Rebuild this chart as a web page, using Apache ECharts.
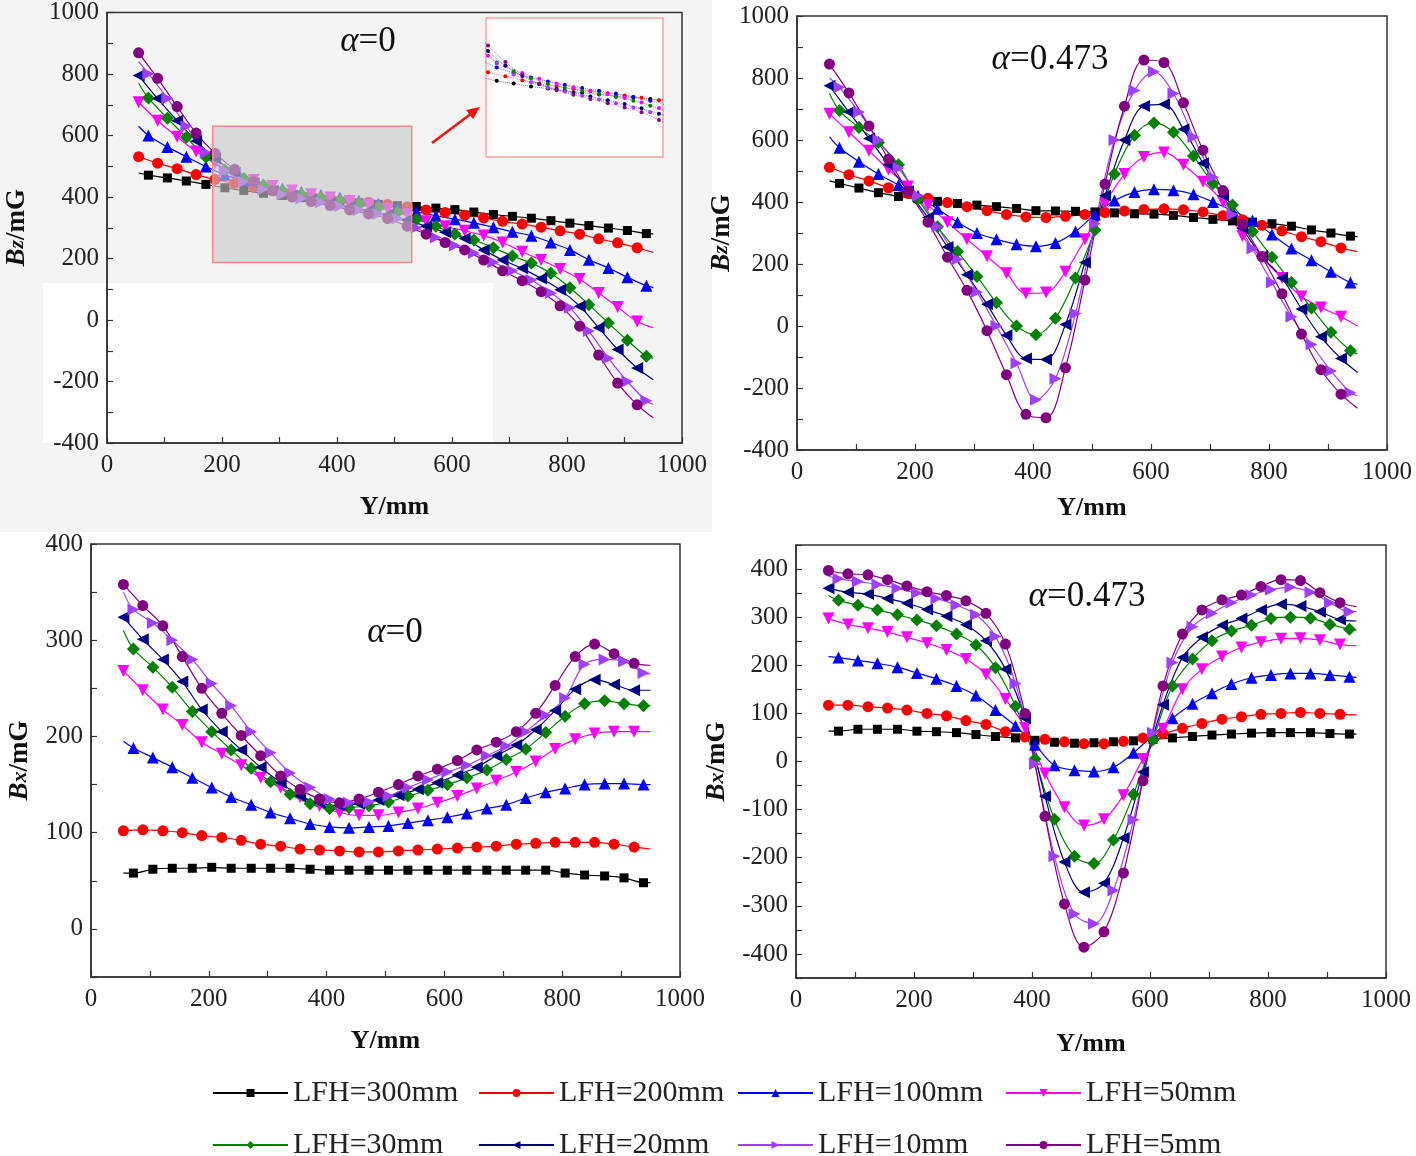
<!DOCTYPE html>
<html><head><meta charset="utf-8">
<script src="https://cdn.jsdelivr.net/npm/echarts@6/dist/echarts.min.js"></script>
<style>html,body{margin:0;padding:0;background:#fff}#c{width:1416px;height:1156px}</style>
</head><body><div id="c"></div>
<script>
// ---- x positions of the markers (two staggered marker phases, mm)
const XA = [55, 88, 122, 155, 188, 222, 255, 288, 322, 355, 388, 422, 455, 488, 522, 555, 588, 622, 655, 688, 722, 755, 788, 822, 855, 888, 922];
const XB = [72, 105, 138, 172, 205, 238, 272, 305, 338, 372, 405, 438, 472, 505, 538, 572, 605, 638, 672, 705, 738, 772, 805, 838, 872, 905, 938];
// curve ends without marker (mm)
const X_START = 55;
const X_END = 950;

const NAMES = ['LFH=300mm', 'LFH=200mm', 'LFH=100mm', 'LFH=50mm', 'LFH=30mm', 'LFH=20mm', 'LFH=10mm', 'LFH=5mm'];
const PHASE = [XB, XA, XB, XA, XB, XA, XB, XA];

// ---- Bz, alpha = 0 (mG)
const bz0_300 = [471,462,452,441,430,421,412,405,398,392,386,381,376,372,369,364,359,351,343,337,331,323,315,307,299,291,281];
const bz0_200 = [531,510,492,473,457,444,432,421,412,404,397,390,383,376,368,358,350,341,332,321,312,302,290,279,264,251,235];
const bz0_100 = [600,563,531,499,472,455,440,428,417,407,398,389,379,366,352,339,328,316,302,287,274,252,228,196,169,139,111];
const bz0_50  = [708,648,596,548,510,478,455,436,421,409,398,387,375,361,343,321,305,290,275,252,222,195,166,133,88,42,-5];
const bz0_30  = [722,656,594,530,488,460,438,420,408,398,388,378,366,350,328,305,280,260,235,208,185,152,105,50,-10,-66,-118];
const bz0_20  = [795,720,648,582,525,478,445,420,404,392,380,368,356,342,325,305,285,265,228,195,168,135,98,45,-25,-96,-156];
const bz0_10  = [801,720,630,545,485,450,425,408,395,382,370,358,345,330,300,268,242,218,188,160,130,88,40,-36,-124,-200,-263];
const bz0_5   = [869,786,694,608,542,490,450,420,400,385,372,358,345,330,305,279,252,228,195,160,128,92,46,-20,-114,-205,-276];
const bz0_start = [478, null, 630, null, 770, null, 840, null];
const bz0_end   = [280, 220, 106, -25, -124, -194, -275, -318];

// ---- Bz, alpha = 0.473 (mG)
const bz4_300 = [460,445,430,418,410,402,395,390,385,379,372,371,370,368,365,362,361,357,350,344,339,335,330,322,310,300,290];
const bz4_200 = [512,488,468,446,428,412,398,385,372,360,352,350,354,360,366,371,376,378,375,368,356,343,325,307,288,272,252];
const bz4_100 = [575,530,490,455,420,378,335,300,280,264,257,268,305,360,405,432,441,438,425,400,372,340,295,250,212,175,140];
const bz4_50  = [685,625,565,505,450,390,335,280,225,170,105,108,175,280,395,490,545,560,520,465,400,290,220,155,95,60,30];
const bz4_30  = [695,640,592,520,410,320,240,160,75,0,-28,25,155,310,490,615,655,625,548,460,390,305,222,140,58,-20,-80];
const bz4_20  = [775,690,605,520,435,350,255,165,70,-30,-105,-108,5,205,420,600,710,715,635,525,420,315,225,155,55,-35,-105];
const bz4_10  = [770,690,600,510,420,320,215,110,0,-120,-238,-170,40,330,600,760,820,750,610,480,360,250,140,30,-60,-145,-215];
const bz4_5   = [845,752,645,538,435,335,222,115,-15,-157,-285,-296,-135,148,458,709,858,850,720,567,437,328,224,104,-26,-141,-220];
const bz4_start = [468, null, 610, null, 750, null, 800, null];
const bz4_end   = [288, 240, 135, 0, -90, -150, -225, -265];

// ---- Bx, alpha = 0 (mG)
const bx0_300 = [58,62,63,63,64,63,63,63,63,62,61,61,61,61,61,61,61,61,61,61,61,61,58,56,55,53,48];
const bx0_200 = [102,103,102,100,97,95,92,88,86,83,82,81,80,80,81,82,83,84,85,86,88,89,90,90,90,88,85];
const bx0_100 = [188,178,168,157,147,137,129,121,115,109,106,105,106,107,110,113,116,120,125,129,136,142,146,150,151,151,150];
const bx0_50  = [268,248,228,212,194,182,170,157,147,137,128,121,118,118,121,125,131,138,146,154,163,174,187,197,203,205,205];
const bx0_30  = [291,272,251,226,205,186,167,153,140,130,125,126,128,132,138,144,150,157,165,176,187,204,221,234,237,234,232];
const bx0_20  = [324,301,280,257,228,205,186,168,152,138,131,128,130,134,139,145,152,160,168,180,191,207,227,249,259,254,248];
const bx0_10  = [332,318,300,280,255,232,205,183,162,147,135,131,132,138,147,155,163,170,180,190,205,222,240,275,280,278,266];
const bx0_5   = [358,336,315,283,250,224,201,180,159,145,135,131,135,142,150,159,166,175,186,194,205,224,253,283,296,286,276];
const bx0_start = [58, null, 195, null, 310, null, 350, null];
const bx0_end   = [48, 83, 150, 205, 232, 248, 265, 274];

// ---- Bx, alpha = 0.473 (mG)
const bx4_300 = [63,67,67,67,63,62,60,56,52,49,44,40,38,39,41,43,46,49,52,55,57,59,60,60,60,58,57];
const bx4_200 = [117,117,114,111,107,100,95,85,77,62,51,46,41,37,37,42,49,58,69,79,88,93,98,100,102,100,98];
const bx4_100 = [216,210,204,196,184,172,157,137,107,74,35,-8,-18,-21,-12,18,55,90,120,142,161,174,180,183,183,180,176];
const bx4_50  = [297,285,277,269,258,246,232,213,181,130,70,-25,-95,-133,-120,-70,5,68,150,192,218,237,248,255,256,252,243];
const bx4_30  = [335,325,315,305,294,282,265,242,195,115,5,-120,-197,-212,-163,-68,45,157,213,251,271,283,297,300,298,285,275];
const bx4_20  = [360,352,348,339,329,316,302,284,251,192,90,-72,-209,-272,-253,-159,-22,118,216,258,283,297,315,327,323,311,295];
const bx4_10  = [380,374,368,360,350,339,325,305,260,162,-5,-197,-317,-337,-268,-121,60,206,280,308,330,346,357,362,352,330,311];
const bx4_5   = [397,390,388,378,365,353,345,334,308,244,100,-114,-296,-386,-354,-232,-40,157,265,315,336,346,364,378,376,351,330];
const bx4_start = [63, null, 218, null, 345, null, 385, null];
const bx4_end   = [57, 97, 175, 241, 273, 292, 312, 322];

// magnified window of the first panel: [xmin, xmax, ymin, ymax]
const ZOOM_BOX = [184, 530, 187, 630];

const PANELS = [
  [bz0_300, bz0_200, bz0_100, bz0_50, bz0_30, bz0_20, bz0_10, bz0_5],
  [bz4_300, bz4_200, bz4_100, bz4_50, bz4_30, bz4_20, bz4_10, bz4_5],
  [bx0_300, bx0_200, bx0_100, bx0_50, bx0_30, bx0_20, bx0_10, bx0_5],
  [bx4_300, bx4_200, bx4_100, bx4_50, bx4_30, bx4_20, bx4_10, bx4_5]
];
const STARTS = [bz0_start, bz4_start, bx0_start, bx4_start];
const ENDS = [bz0_end, bz4_end, bx0_end, bx4_end];

// ---- styles
const FONT = "'Liberation Serif','Times New Roman',serif";
const COLORS = ['#000000', '#ff0000', '#0000ff', '#ff00ff', '#008000', '#000080', '#9f3fff', '#800080'];
const SYMBOLS = ['rect', 'circle', 'triangle', 'triangle', 'diamond', 'triangle', 'triangle', 'circle'];
const ROTATE = [0, 0, 0, 180, 0, 90, -90, 0];
const SIZES = [9, 11, 12, 12, 13, 12, 12, 11];

const chart = echarts.init(document.getElementById('c'), null, {renderer: 'canvas'});

const grids = [
  {left: 107, top: 10, width: 575, height: 433},
  {left: 797, top: 16, width: 590, height: 434},
  {left: 91, top: 544, width: 589, height: 433},
  {left: 796, top: 545, width: 590, height: 433}
].map(g => Object.assign({show: true, borderColor: '#333', borderWidth: 1.5, backgroundColor: 'transparent'}, g));
grids.push({left: 486, top: 18, width: 177, height: 139, show: true, borderColor: '#f4a3a3', borderWidth: 1.5, backgroundColor: '#fdfdfd'});

function xAx(gi, nameGap) {
  return {
    type: 'value', gridIndex: gi, min: 0, max: 1000, interval: 100,
    name: 'Y/mm', nameLocation: 'middle', nameGap: nameGap,
    nameTextStyle: {fontFamily: FONT, fontSize: 26, fontWeight: 'bold', color: '#111'},
    axisLine: {show: true, onZero: false, lineStyle: {color: '#333', width: 1.5}},
    axisTick: {show: true, inside: true, length: 6, lineStyle: {color: '#333', width: 1.2}},
    axisLabel: {fontFamily: FONT, fontSize: 25, color: '#222', margin: 10,
      formatter: v => (v % 200 === 0 ? String(v) : '')},
    splitLine: {show: false}
  };
}
function yAx(gi, min, max, interval, step, nameGap, sub) {
  return {
    type: 'value', gridIndex: gi, min: min, max: max, interval: interval,
    name: '{b|B}{s|' + sub + '}{n|/mG}', nameLocation: 'middle', nameGap: nameGap,
    nameTextStyle: {fontFamily: FONT, fontSize: 27, fontWeight: 'bold', color: '#111',
      rich: {
        b: {fontFamily: FONT, fontSize: 27, fontWeight: 'bold', fontStyle: 'italic', color: '#111'},
        s: {fontFamily: FONT, fontSize: 22, fontWeight: 'bold', fontStyle: 'italic', color: '#111'},
        n: {fontFamily: FONT, fontSize: 27, fontWeight: 'bold', color: '#111'}
      }},
    axisLine: {show: true, onZero: false, lineStyle: {color: '#333', width: 1.5}},
    axisTick: {show: true, inside: true, length: 6, lineStyle: {color: '#333', width: 1.2}},
    axisLabel: {fontFamily: FONT, fontSize: 25, color: '#222', margin: 8,
      formatter: v => (v % step === 0 ? String(v) : '')},
    splitLine: {show: false}
  };
}

const xAxes = [xAx(0, 51), xAx(1, 45), xAx(2, 51), xAx(3, 53),
  {type: 'value', gridIndex: 4, min: ZOOM_BOX[0], max: ZOOM_BOX[1], show: false}];
const yAxes = [yAx(0, -400, 1000, 100, 200, 76, 'z'), yAx(1, -400, 1000, 100, 200, 59, 'z'),
  yAx(2, -50, 400, 50, 100, 57, 'x'), yAx(3, -450, 450, 50, 100, 65, 'x'),
  {type: 'value', gridIndex: 4, min: ZOOM_BOX[2], max: ZOOM_BOX[3], show: false}];

function curve(p, k) {
  const pts = PHASE[k].map((x, i) => [x, PANELS[p][k][i]]);
  const s = STARTS[p][k];
  if (s !== null) pts.unshift({value: [X_START, s], symbol: 'none'});
  pts.push({value: [X_END, ENDS[p][k]], symbol: 'none'});
  return pts;
}

const series = [];
PANELS.forEach((panel, p) => {
  panel.forEach((ys, k) => {
    series.push({
      type: 'line', name: NAMES[k], xAxisIndex: p, yAxisIndex: p,
      data: curve(p, k),
      smooth: 0.35, symbol: SYMBOLS[k], symbolRotate: ROTATE[k], symbolSize: SIZES[k],
      showAllSymbol: true,
      itemStyle: {color: COLORS[k]},
      lineStyle: {color: COLORS[k], width: 1.2},
      emphasis: {disabled: true}, animation: false
    });
  });
});
// magnified inset (same data as panel 1)
PANELS[0].forEach((ys, k) => {
  series.push({
    type: 'line', name: NAMES[k], xAxisIndex: 4, yAxisIndex: 4,
    data: PHASE[k].map((x, i) => [x, ys[i]]),
    smooth: 0.35, symbol: 'circle', symbolSize: 4, showAllSymbol: true, clip: true,
    itemStyle: {color: COLORS[k]},
    lineStyle: {color: COLORS[k], width: 1, type: 'dotted', opacity: 0.5},
    emphasis: {disabled: true}, animation: false, silent: true
  });
});
// grey selection box on panel 1
series.push({
  type: 'line', name: 'box', xAxisIndex: 0, yAxisIndex: 0, data: [], z: 10, silent: true, animation: false,
  markArea: {silent: true, z: 10,
    itemStyle: {color: 'rgba(200,200,200,0.62)', borderColor: '#f08a8a', borderWidth: 1.5},
    data: [[{coord: [ZOOM_BOX[0], ZOOM_BOX[3]]}, {coord: [ZOOM_BOX[1], ZOOM_BOX[2]]}]]}
});

const LEG_LEFT = [212, 478, 737, 1005];
const LEG_TOP = [1078, 1130];
const legends = NAMES.map((n, k) => ({
  data: [n], left: LEG_LEFT[k % 4], top: LEG_TOP[Math.floor(k / 4)], padding: 0,
  itemWidth: 75, itemHeight: 10, selectedMode: false,
  textStyle: {fontFamily: FONT, fontSize: 30, color: '#222'}
}));

const annot = (txt, x, y) => ({
  type: 'text', x: x, y: y, z: 20,
  style: {text: txt, fontFamily: FONT, fontSize: 35, fill: '#111', align: 'center', verticalAlign: 'middle',
    rich: {a: {fontFamily: FONT, fontSize: 35, fontStyle: 'italic', fill: '#111'}}}
});

const graphic = [
  {type: 'rect', z: -10, shape: {x: 0, y: 0, width: 712, height: 532}, style: {fill: '#f4f4f4'}, silent: true},
  {type: 'rect', z: -9, shape: {x: 43, y: 283, width: 450, height: 160}, style: {fill: '#ffffff'}, silent: true},
  annot('{a|α}=0', 368, 42),
  annot('{a|α}=0.473', 1050, 60),
  annot('{a|α}=0', 395, 633),
  annot('{a|α}=0.473', 1087, 597),
  {type: 'line', z: 20, shape: {x1: 432, y1: 143, x2: 472, y2: 113}, style: {stroke: '#f01010', lineWidth: 2.5}},
  {type: 'polygon', z: 20, shape: {points: [[480, 107], [466, 110], [473, 119]]}, style: {fill: '#f01010'}}
];

chart.setOption({
  animation: false,
  backgroundColor: '#ffffff',
  grid: grids,
  xAxis: xAxes,
  yAxis: yAxes,
  legend: legends,
  series: series,
  graphic: graphic
});
</script></body></html>
